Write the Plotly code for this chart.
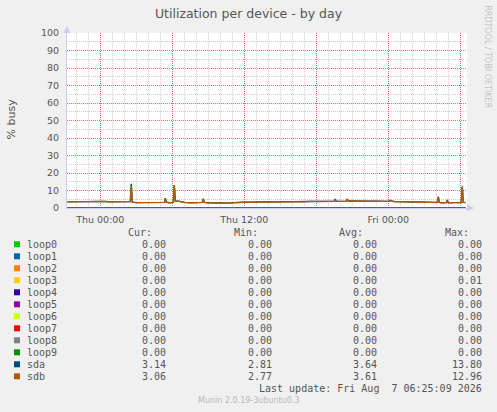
import pandas as pd
import plotly.graph_objects as go

# ---------------- data ----------------
TIMES = [
    "2026-08-05 21:15", "2026-08-05 21:45", "2026-08-05 22:15", "2026-08-05 22:45",
    "2026-08-05 23:15", "2026-08-05 23:45", "2026-08-06 00:15", "2026-08-06 00:45",
    "2026-08-06 01:15", "2026-08-06 01:45", "2026-08-06 02:15", "2026-08-06 02:30",
    "2026-08-06 02:35", "2026-08-06 02:40", "2026-08-06 03:00", "2026-08-06 03:30",
    "2026-08-06 04:00", "2026-08-06 04:30", "2026-08-06 05:00", "2026-08-06 05:20",
    "2026-08-06 05:25", "2026-08-06 05:30", "2026-08-06 05:45", "2026-08-06 06:05",
    "2026-08-06 06:10", "2026-08-06 06:15", "2026-08-06 06:30", "2026-08-06 07:00",
    "2026-08-06 07:30", "2026-08-06 08:00", "2026-08-06 08:30", "2026-08-06 08:35",
    "2026-08-06 08:40", "2026-08-06 09:00", "2026-08-06 09:30", "2026-08-06 10:00",
    "2026-08-06 10:30", "2026-08-06 11:00", "2026-08-06 11:30", "2026-08-06 12:00",
    "2026-08-06 12:30", "2026-08-06 13:00", "2026-08-06 13:30", "2026-08-06 14:00",
    "2026-08-06 14:30", "2026-08-06 15:00", "2026-08-06 15:30", "2026-08-06 16:00",
    "2026-08-06 16:30", "2026-08-06 17:00", "2026-08-06 17:30", "2026-08-06 18:00",
    "2026-08-06 18:30", "2026-08-06 19:00", "2026-08-06 19:30", "2026-08-06 19:35",
    "2026-08-06 19:40", "2026-08-06 20:00", "2026-08-06 20:30", "2026-08-06 20:35",
    "2026-08-06 20:40", "2026-08-06 21:00", "2026-08-06 21:30", "2026-08-06 22:00",
    "2026-08-06 22:30", "2026-08-06 23:00", "2026-08-06 23:30", "2026-08-07 00:00",
    "2026-08-07 00:10", "2026-08-07 00:20", "2026-08-07 00:30", "2026-08-07 01:00",
    "2026-08-07 01:30", "2026-08-07 02:00", "2026-08-07 02:30", "2026-08-07 03:00",
    "2026-08-07 03:30", "2026-08-07 04:00", "2026-08-07 04:05", "2026-08-07 04:10",
    "2026-08-07 04:15", "2026-08-07 04:30", "2026-08-07 04:50", "2026-08-07 04:55",
    "2026-08-07 05:00", "2026-08-07 05:30", "2026-08-07 06:00", "2026-08-07 06:05",
    "2026-08-07 06:10", "2026-08-07 06:15", "2026-08-07 06:25",
]

SDA = [
    3.5, 3.6, 3.6, 3.7, 3.9, 3.7, 3.8, 3.6, 3.7, 3.6, 3.6, 3.7,
    13.8, 3.3, 3.1, 3.2, 3.0, 3.1, 3.1, 3.2, 5.6, 3.3, 3.0, 3.2,
    13.1, 4.0, 3.9, 3.2, 3.0, 3.2, 3.2, 5.3, 3.2, 3.0, 3.1, 2.9,
    2.81, 3.1, 3.2, 3.3, 3.3, 3.5, 3.4, 3.6, 3.5, 3.6, 3.6, 3.7,
    3.7, 3.6, 3.8, 3.7, 3.7, 3.8, 3.8, 5.1, 3.8, 3.8, 3.9, 5.0,
    4.0, 4.0, 4.1, 4.0, 3.9, 3.9, 3.8, 3.8, 4.4, 3.8, 3.7, 3.6,
    3.6, 3.5, 3.4, 3.3, 3.2, 3.1, 3.2, 6.5, 3.2, 3.0, 3.1, 4.6,
    3.0, 3.1, 3.0, 3.1, 12.4, 3.2, 3.14,
]

SDB = [
    3.5, 3.6, 3.6, 3.7, 3.9, 3.7, 3.8, 3.6, 3.7, 3.6, 3.6, 3.7,
    12.9, 3.3, 3.1, 3.2, 3.0, 3.1, 3.1, 3.2, 5.2, 3.3, 3.0, 3.2,
    12.96, 4.0, 3.9, 3.2, 3.0, 3.2, 3.2, 5.0, 3.2, 3.0, 3.1, 2.9,
    2.77, 3.1, 3.2, 3.3, 3.3, 3.5, 3.4, 3.6, 3.5, 3.6, 3.6, 3.7,
    3.7, 3.6, 3.8, 3.7, 3.7, 3.8, 3.8, 4.3, 3.8, 3.8, 3.9, 5.3,
    4.0, 4.0, 4.1, 4.0, 3.9, 3.9, 3.8, 3.8, 4.2, 3.8, 3.7, 3.6,
    3.6, 3.5, 3.4, 3.3, 3.2, 3.1, 3.2, 6.2, 3.2, 3.0, 3.1, 4.2,
    3.0, 3.1, 3.0, 3.1, 11.8, 3.2, 3.06,
]

LOOP_TIMES = ["2026-08-05 21:15", "2026-08-07 06:25"]
LOOP_NAMES = ["loop0", "loop1", "loop2", "loop3", "loop4",
              "loop5", "loop6", "loop7", "loop8", "loop9"]
LOOP_VALUES = [0.0, 0.0]

SERIES = LOOP_NAMES + ["sda", "sdb"]
COLORS = ["#00CC00", "#0066B3", "#FF8000", "#FFCC00", "#330099",
          "#990099", "#CCFF00", "#FF0000", "#808080", "#008F00",
          "#00487D", "#B35A00"]

CUR = ["0.00"] * 10 + ["3.14", "3.06"]
MIN = ["0.00"] * 10 + ["2.81", "2.77"]
AVG = ["0.00"] * 10 + ["3.64", "3.61"]
MAX = ["0.00", "0.00", "0.00", "0.01", "0.00", "0.00", "0.00", "0.00",
       "0.00", "0.00", "13.80", "12.96"]

X_LABELS = {"2026-08-06 00:00": "Thu 00:00",
            "2026-08-06 12:00": "Thu 12:00",
            "2026-08-07 00:00": "Fri 00:00"}
MAJOR_X = ["2026-08-06 00:00", "2026-08-06 06:00", "2026-08-06 12:00",
           "2026-08-06 18:00", "2026-08-07 00:00", "2026-08-07 06:00"]
Y_LABELS = [0, 10, 20, 30, 40, 50, 60, 70, 80, 90, 100]

X_RANGE = ["2026-08-05 21:13:30", "2026-08-07 06:33:30"]
Y_RANGE = [0, 100]

TITLE = "Utilization per device - by day"
LAST_UPDATE = "Last update: Fri Aug  7 06:25:09 2026"
MUNIN = "Munin 2.0.19-3ubuntu0.3"

# ---------------- layout helpers ----------------
W, H = 497, 412
ML, MR, MT, MB = 67, 30, 33, 204
PW, PH = W - ML - MR, H - MT - MB


def px(x):
    return (x - ML) / PW


def py(y):
    return (H - MB - y) / PH


TXT = "#555555"
MONO = "DejaVu Sans Mono"
SANS = "DejaVu Sans"
MAJOR = "#EE6A6A"
MINOR = "#CDCDCD"
DOT = "1px,1px"

# minor (gray) grid positions: every hour / every 5 units, skipping major ones
hours = pd.date_range("2026-08-05 22:00", "2026-08-07 06:00", freq="1h")
minor_x = [h.strftime("%Y-%m-%d %H:%M") for h in hours]
minor_x = [v for v in minor_x if v not in MAJOR_X]
minor_y = [v for v in range(5, 100, 10)]
major_ticktext = [X_LABELS.get(v, "") for v in MAJOR_X]

fig = go.Figure()

# empty trace on the overlaid axes that carry the red major grid and labels
fig.add_trace(go.Scatter(x=[], y=[], xaxis="x2", yaxis="y2", showlegend=False,
                         hoverinfo="skip"))

for i, name in enumerate(LOOP_NAMES):
    fig.add_trace(go.Scatter(x=LOOP_TIMES, y=LOOP_VALUES, mode="lines",
                             line=dict(color=COLORS[i], width=1.6),
                             showlegend=False, hoverinfo="skip"))

fig.add_trace(go.Scatter(x=TIMES, y=SDA, mode="lines",
                         line=dict(color=COLORS[10], width=1.4),
                         showlegend=False))
fig.add_trace(go.Scatter(x=TIMES, y=SDB, mode="lines",
                         line=dict(color=COLORS[11], width=1.4),
                         showlegend=False))

annotations = []
shapes = []

# headers
for label, xr in [("Cur:", 153.5), ("Min:", 259.5), ("Avg:", 364.5), ("Max:", 470.5)]:
    annotations.append(dict(text=label, x=px(xr), y=py(232.3), xref="paper", yref="paper",
                            xanchor="right", yanchor="middle", showarrow=False,
                            font=dict(family=MONO, size=10, color=TXT)))

for i, name in enumerate(SERIES):
    yc = 244.3 + 12 * i
    shapes.append(dict(type="rect", xref="paper", yref="paper",
                       x0=px(14), x1=px(20), y0=py(yc + 3), y1=py(yc - 3),
                       fillcolor=COLORS[i], line=dict(width=0)))
    annotations.append(dict(text=name, x=px(25), y=py(yc), xref="paper", yref="paper",
                            xanchor="left", yanchor="middle", showarrow=False,
                            font=dict(family=MONO, size=10, color=TXT)))
    for vals, xr in [(CUR, 168), (MIN, 274), (AVG, 379), (MAX, 484)]:
        annotations.append(dict(text=vals[i], x=px(xr), y=py(yc), xref="paper", yref="paper",
                                xanchor="right", yanchor="middle", showarrow=False,
                                font=dict(family=MONO, size=10, color=TXT)))

annotations.append(dict(text=LAST_UPDATE, x=px(484), y=py(388.3), xref="paper", yref="paper",
                        xanchor="right", yanchor="middle", showarrow=False,
                        font=dict(family=MONO, size=10, color=TXT)))
annotations.append(dict(text=MUNIN, x=px(248.5), y=py(400.7), xref="paper", yref="paper",
                        xanchor="center", yanchor="middle", showarrow=False,
                        font=dict(family=SANS, size=8, color="#B8B8B8")))
annotations.append(dict(text="% busy", x=px(10.5), y=py(119), xref="paper", yref="paper",
                        xanchor="center", yanchor="middle", showarrow=False, textangle=-90,
                        font=dict(family=SANS, size=11, color=TXT)))
annotations.append(dict(text="RRDTOOL / TOBI OETIKER", x=px(487.5), y=py(56.7),
                        xref="paper", yref="paper", xanchor="center", yanchor="middle",
                        showarrow=False, textangle=90,
                        font=dict(family=SANS, size=8, color="#C4C4C4")))

AXIS_COL = "#C8CEF0"
# axis arrows
shapes.append(dict(type="path", xref="paper", yref="paper", xsizemode="pixel",
                   ysizemode="pixel", xanchor=0, yanchor=1,
                   path="M -3.5 0 L 3.5 0 L 0 7 Z", fillcolor=AXIS_COL,
                   line=dict(width=0)))
shapes.append(dict(type="path", xref="paper", yref="paper", xsizemode="pixel",
                   ysizemode="pixel", xanchor=1, yanchor=0,
                   path="M 0 -3.5 L 0 3.5 L 7 0 Z", fillcolor=AXIS_COL,
                   line=dict(width=0)))

fig.update_layout(
    width=W, height=H, autosize=False,
    margin=dict(l=ML, r=MR, t=MT, b=MB, pad=0),
    paper_bgcolor="#F0F0F0", plot_bgcolor="#FFFFFF",
    title=dict(text=TITLE, x=0.5, xref="container", xanchor="center",
               y=1 - 13.3 / H, yref="container", yanchor="middle",
               font=dict(family=SANS, size=12.5, color=TXT)),
    annotations=annotations, shapes=shapes,
    showlegend=False,
    xaxis=dict(type="date", range=X_RANGE, tickmode="array", tickvals=minor_x,
               showticklabels=False, showgrid=True, gridcolor=MINOR,
               griddash=DOT, gridwidth=1, zeroline=False,
               showline=True, linecolor=AXIS_COL, linewidth=1, ticks=""),
    yaxis=dict(range=Y_RANGE, tickmode="array", tickvals=minor_y,
               showticklabels=False, showgrid=True, gridcolor=MINOR,
               griddash=DOT, gridwidth=1, zeroline=False,
               showline=True, linecolor=AXIS_COL, linewidth=1, ticks=""),
    xaxis2=dict(type="date", range=X_RANGE, overlaying="x", side="bottom",
                tickmode="array", tickvals=MAJOR_X, ticktext=major_ticktext,
                showticklabels=True, showgrid=True, gridcolor=MAJOR,
                griddash=DOT, gridwidth=1, zeroline=False, showline=False,
                ticks="outside", ticklen=3, tickcolor="rgba(0,0,0,0)",
                tickfont=dict(family=SANS, size=9.5, color=TXT)),
    yaxis2=dict(range=Y_RANGE, overlaying="y", side="left",
                tickmode="array", tickvals=Y_LABELS, showticklabels=True,
                showgrid=True, gridcolor=MAJOR, griddash=DOT, gridwidth=1,
                zeroline=False, showline=False,
                ticks="outside", ticklen=5, tickcolor="rgba(0,0,0,0)",
                tickfont=dict(family=SANS, size=9.5, color=TXT)),
)

fig.write_html("out.html",
               config={"displayModeBar": False, "staticPlot": True},
               post_script="document.body.style.margin='0';"
                           "document.body.style.overflow='hidden';"
                           "document.body.style.background='#F0F0F0';")
